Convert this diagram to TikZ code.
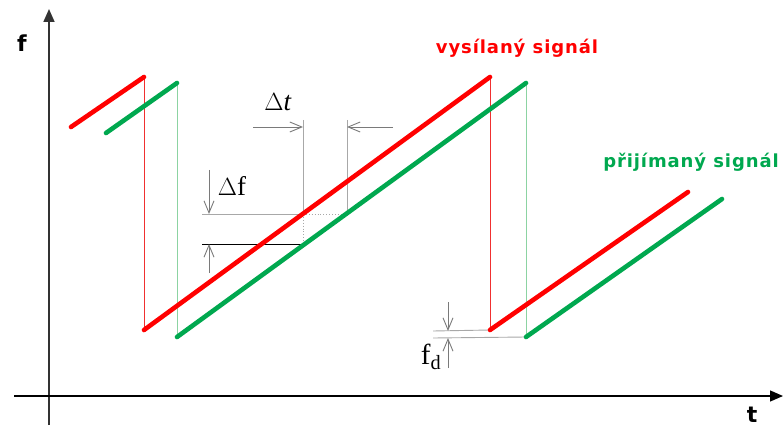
\documentclass[tikz,border=0pt]{standalone}
\usepackage{fontspec}
\setsansfont{DejaVu Sans}
\newfontfamily\timesfont{Liberation Serif}
\newfontfamily\labelfont[LetterSpace=5]{DejaVu Sans}
\usetikzlibrary{arrows.meta}
\definecolor{sendStroke}{HTML}{FF0000}
\definecolor{recvStroke}{HTML}{00A84F}
\definecolor{sendThin}{HTML}{F03030}
\definecolor{recvThin}{HTML}{8CD3A2}
\definecolor{dimLine}{HTML}{A8A8A8}
\definecolor{dimArrow}{HTML}{7A7A7A}

\begin{document}
\begin{tikzpicture}[x=1pt,y=-1pt,
  font=\sffamily\bfseries,
  axis/.style={line width=1.6pt,draw=black!80,-{Triangle[length=13pt,width=11pt]}},
  sent/.style={line width=4.6pt,draw=sendStroke,line cap=round},
  recv/.style={line width=4.6pt,draw=recvStroke,line cap=round},
  sentjump/.style={line width=0.7pt,draw=sendThin},
  recvjump/.style={line width=0.7pt,draw=recvThin},
  dim/.style={line width=0.9pt,draw=dimLine},
  dimarrow/.style={line width=0.9pt,draw=dimArrow,-{Straight Barb[length=12pt,width=10pt]}},
  sym/.style={font=\timesfont\fontsize{27}{29}\selectfont},
  axlabel/.style={font=\sffamily\bfseries\fontsize{22}{24}\selectfont},
  siglabel/.style={font=\labelfont\bfseries\fontsize{18}{20}\selectfont}
]
\useasboundingbox (0,0) rectangle (783,430);
% axes of the frequency--time plot
\draw[axis] (49,425) -- (49,9);
\draw[axis,line width=1.3pt,draw=black] (14,396) -- (783,396);
\node[axlabel] (flabel) at (22,43) {f};
\node[axlabel] (tlabel) at (752,415) {t};
% corners of the two saw-tooth signals
\coordinate (s0) at (71,127); \coordinate (s1) at (144,77);
\coordinate (s2) at (144,330); \coordinate (s3) at (490,77);
\coordinate (s4) at (490,330); \coordinate (s5) at (688,192);
\coordinate (g0) at (106,133); \coordinate (g1) at (177,83);
\coordinate (g2) at (177,337); \coordinate (g3) at (526,83);
\coordinate (g4) at (526,337); \coordinate (g5) at (722,199);
% helper points for the dimension lines
\coordinate (dtA) at (303,120); \coordinate (dtB) at (347,120);
\coordinate (cr) at (303,214); \coordinate (cg) at (347,214);
\coordinate (cl) at (303,244);
\coordinate (dfA) at (202,214); \coordinate (dfB) at (202,244);
\coordinate (fdA) at (433,331); \coordinate (fdB) at (433,338);
% dimension lines
\draw[dim] (dtA) -- (cr);
\draw[dim] (dtB) -- (cg);
\draw[dim] (dfA) -- (cr);
\draw[dim,dotted] (cr) -- (cg);
\draw[dim,dotted] (cr) -- (cl);
\draw[line width=0.8pt,black] (dfB) -- (cl);
\draw[dim] (fdA) -- (s4);
\draw[dim] (fdB) -- (g4);
\draw[dimarrow] (253,127) -- (303,127);
\draw[dimarrow] (393,127) -- (347,127);
\draw[dimarrow] (209,170) -- (209,214);
\draw[dimarrow] (209,273) -- (209,244);
\draw[dimarrow] (448,302) -- (448,331);
\draw[dimarrow] (448,368) -- (448,338);
\node[sym] (dt) at (278,102) {$\Delta$\textit{t}};
\node[sym] (df) at (232,186) {$\Delta$f};
\node[sym,font=\timesfont\fontsize{29}{31}\selectfont] (fd) at (431,357) {f\textsubscript{d}};
% jumps
\draw[sentjump] (s1) -- (s2);
\draw[sentjump] (s3) -- (s4);
\draw[recvjump] (g1) -- (g2);
\draw[recvjump] (g3) -- (g4);
% ramps
\draw[sent] (s0) -- (s1);
\draw[sent] (s2) -- (s3);
\draw[sent] (s4) -- (s5);
\draw[recv] (g0) -- (g1);
\draw[recv] (g2) -- (g3);
\draw[recv] (g4) -- (g5);
\node[siglabel,text=sendStroke] (sendlabel) at (517,48) {vysílaný signál};
\node[siglabel,text=recvStroke] (recvlabel) at (691,162) {přijímaný signál};
\end{tikzpicture}
\end{document}
